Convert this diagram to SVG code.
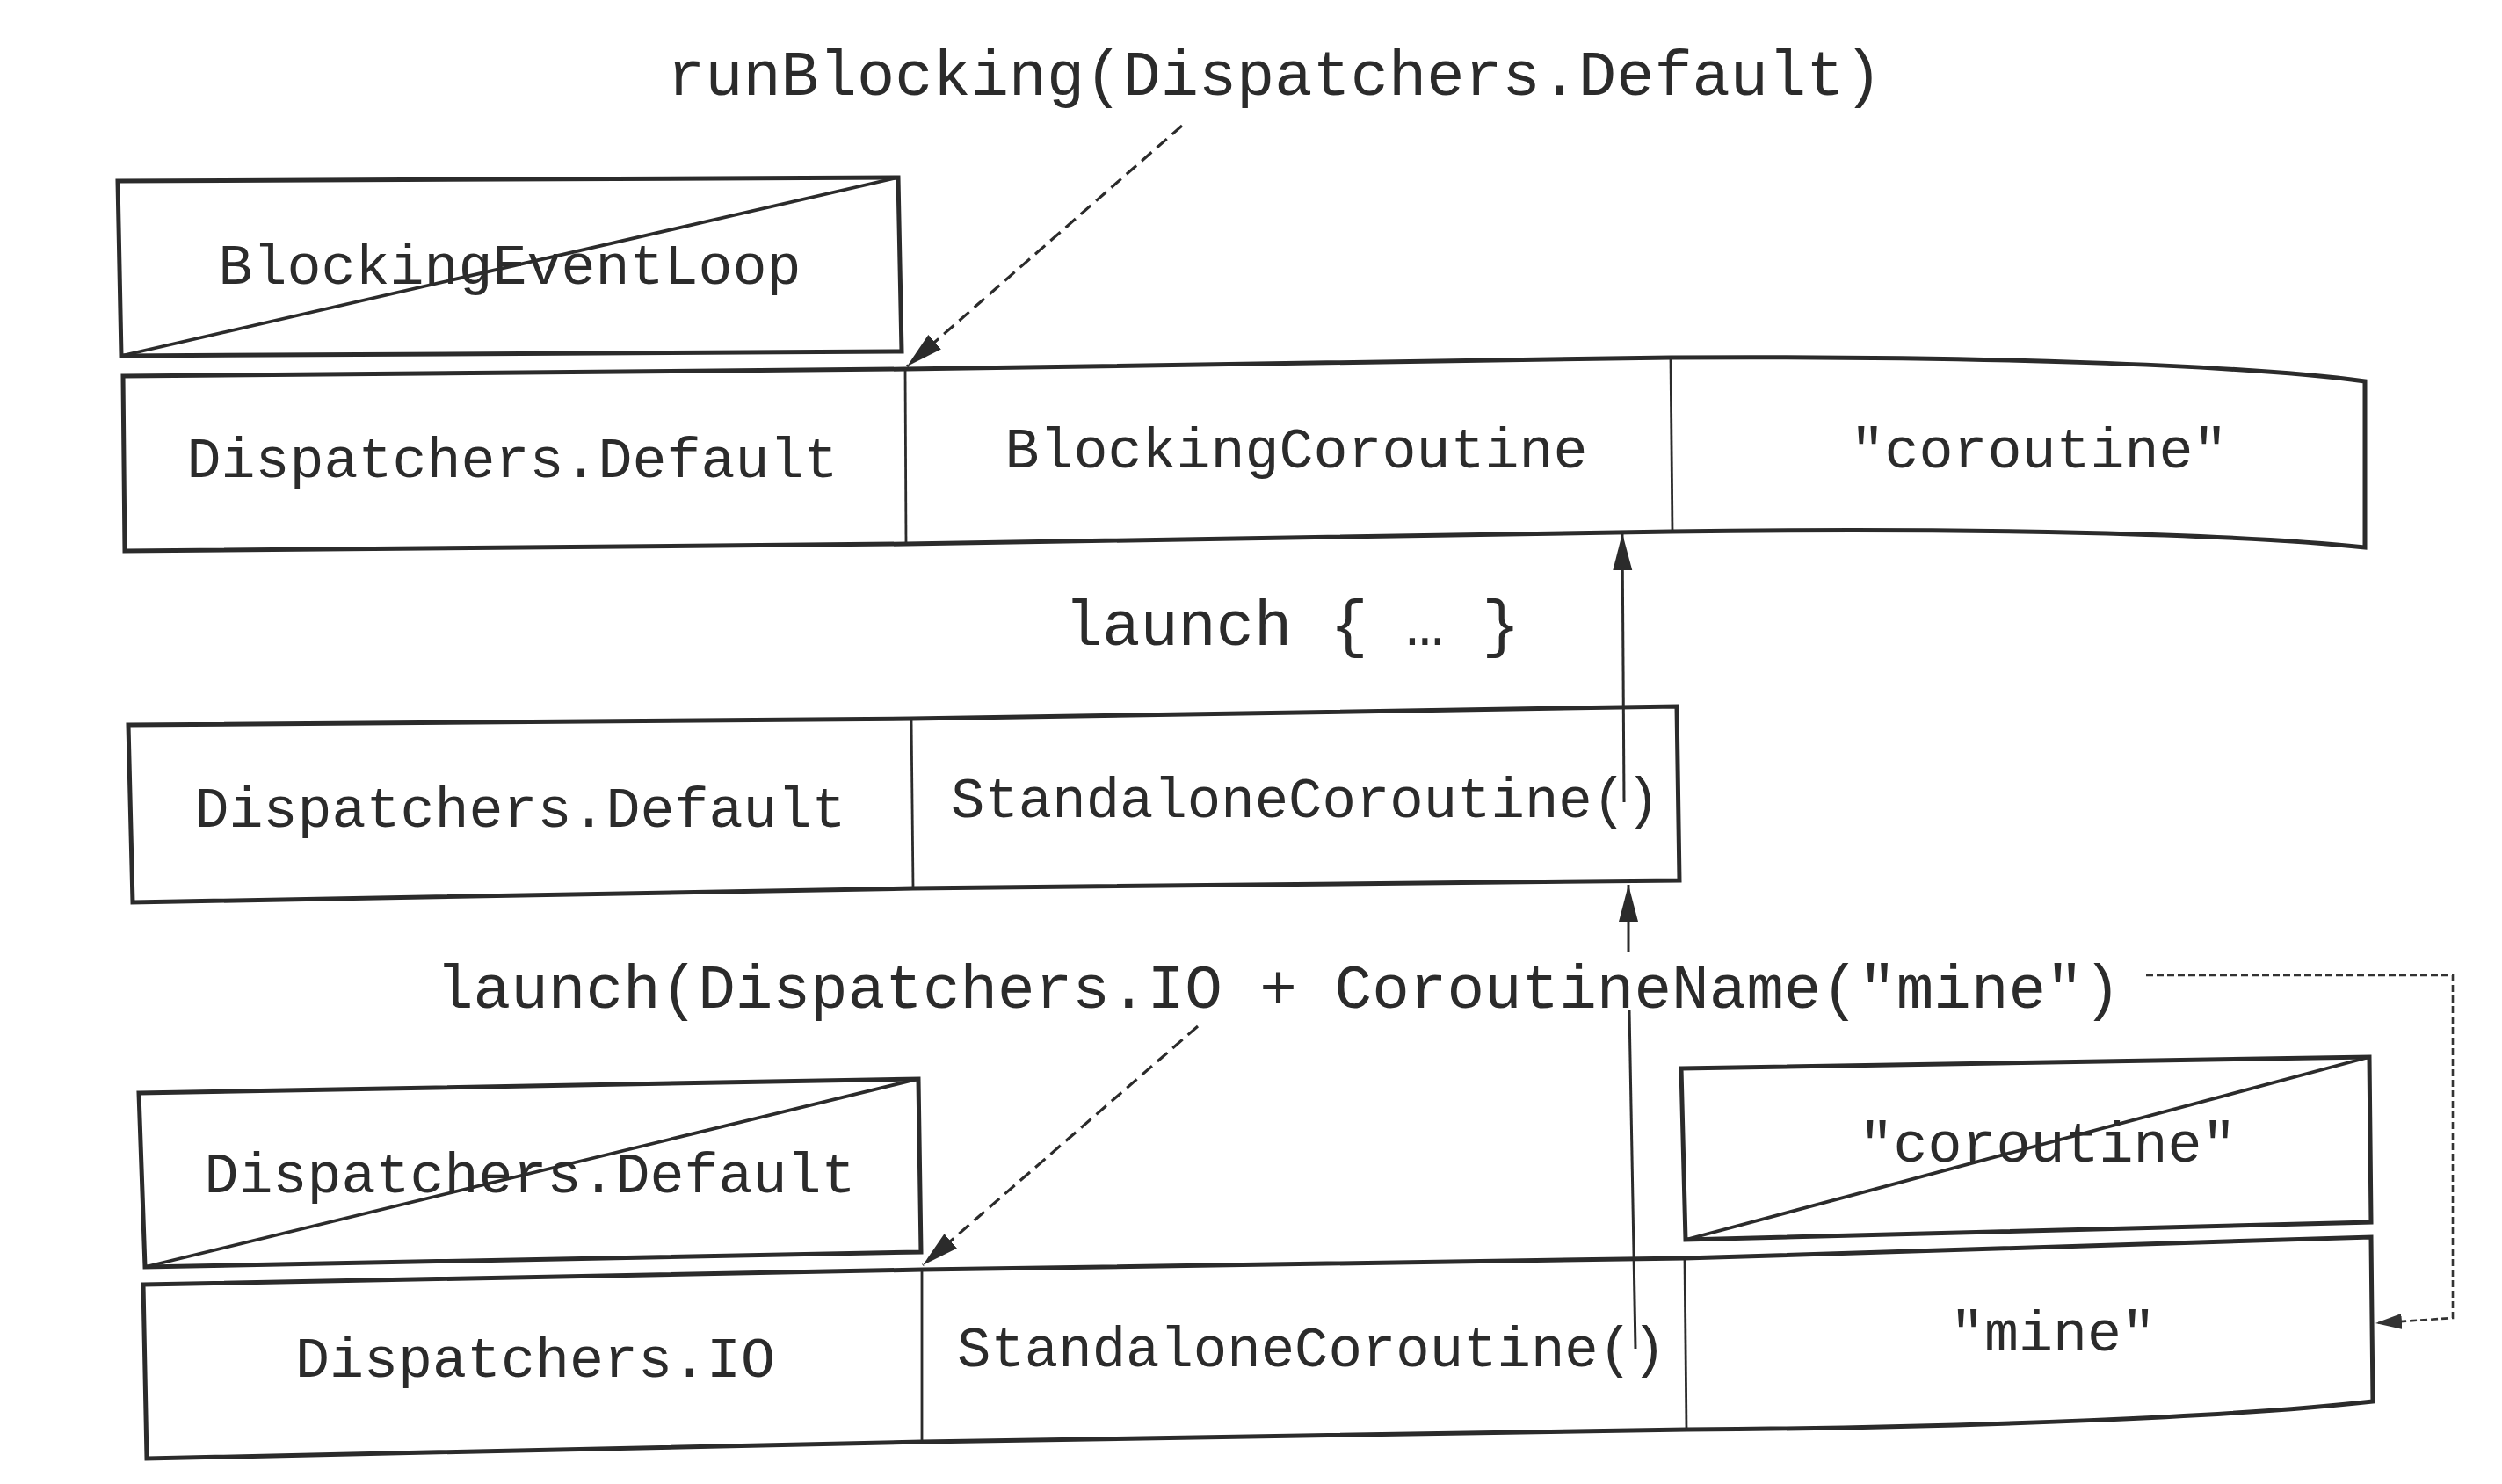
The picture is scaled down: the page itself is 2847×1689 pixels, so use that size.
<svg xmlns="http://www.w3.org/2000/svg" width="2847" height="1689" viewBox="0 0 2847 1689">
<style>
  .box{fill:none;stroke:#2b2b2b;stroke-width:5;stroke-linejoin:miter}
  .div{fill:none;stroke:#2b2b2b;stroke-width:2.8}
  .diag{fill:none;stroke:#2b2b2b;stroke-width:3.8}
  .t{font-family:"Liberation Mono","Courier New",monospace;font-size:65px;fill:#2b2b2b}
  .lbl{font-family:"Liberation Mono","Courier New",monospace;font-size:72px;fill:#2b2b2b}
  .mid{text-anchor:middle}
  .dash{fill:none;stroke:#2b2b2b;stroke-width:3.2;stroke-dasharray:15 8}
  .dot{fill:none;stroke:#333;stroke-width:2.6;stroke-dasharray:8 4}
  .solid{fill:none;stroke:#2b2b2b;stroke-width:3}
</style>
<defs>
  <marker id="ah" markerUnits="userSpaceOnUse" markerWidth="44" markerHeight="24" refX="42" refY="11" orient="auto">
    <path d="M0,0 L42,11 L0,22 Z" fill="#2b2b2b"/>
  </marker>
  <marker id="ahs" markerUnits="userSpaceOnUse" markerWidth="32" markerHeight="20" refX="30" refY="9" orient="auto">
    <path d="M0,0 L30,9 L0,18 Z" fill="#333"/>
  </marker>
</defs>
<rect width="2847" height="1689" fill="#ffffff"/>

<text class="lbl" x="759" y="108">runBlocking(Dispatchers.Default)</text>
<text class="lbl" x="1211" y="734">launch { … }</text>
<text class="lbl" x="496" y="1147" style="font-size:71px">launch(Dispatchers.IO + CoroutineName("mine")</text>

<g id="blocking-event-loop">
  <path class="box" d="M134,206 L1022,202 L1026,400 L138,405 Z"/>
  <text class="t mid" x="580" y="323">BlockingEventLoop</text>
  <line class="diag" x1="138" y1="405" x2="1022" y2="202"/>
</g>

<g id="top-context">
  <path class="box" d="M140,428 L1030,420 L1901,407 C2250,405 2550,415 2691,434 L2691,623 C2550,608 2250,600 1901,605 L1031,619 L142,627 Z"/>
  <line class="div" x1="1030" y1="420" x2="1031" y2="619"/>
  <line class="div" x1="1901" y1="407" x2="1903" y2="605"/>
  <text class="t mid" x="583" y="543">Dispatchers.Default</text>
  <text class="t mid" x="1475" y="532">BlockingCoroutine</text>
  <text class="t mid" x="2320" y="532">"coroutine"</text>
</g>

<g id="middle-context">
  <path class="box" d="M146,825 L1037,818 L1908,804 L1911,1002 L1039,1011 L151,1027 Z"/>
  <line class="div" x1="1037" y1="818" x2="1039" y2="1011"/>
  <text class="t mid" x="592" y="941">Dispatchers.Default</text>
  <text class="t" x="1082" y="930" style="font-size:64px">StandaloneCoroutine()</text>
</g>

<g id="old-dispatcher">
  <path class="box" d="M158,1244 L1045,1228 L1048,1425 L165,1442 Z"/>
  <text class="t mid" x="603" y="1357">Dispatchers.Default</text>
  <line class="diag" x1="165" y1="1442" x2="1045" y2="1228"/>
</g>

<g id="old-name">
  <path class="box" d="M1913,1216 L2696,1203 L2698,1391 L1918,1411 Z"/>
  <text class="t mid" x="2330" y="1322">"coroutine"</text>
  <line class="diag" x1="1918" y1="1411" x2="2696" y2="1203"/>
</g>

<g id="bottom-context">
  <path class="box" d="M163,1462 L1049,1445 L1917,1432 L2698,1408 L2700,1595 C2550,1612 2250,1625 1919,1627 L1049,1641 L167,1660 Z"/>
  <line class="div" x1="1049" y1="1445" x2="1049" y2="1641"/>
  <line class="div" x1="1917" y1="1432" x2="1919" y2="1627"/>
  <text class="t mid" x="609" y="1567">Dispatchers.IO</text>
  <text class="t" x="1089" y="1555" style="font-size:64px">StandaloneCoroutine()</text>
  <text class="t mid" x="2336" y="1537">"mine"</text>
</g>

<g id="connectors">
  <path class="dash" d="M1345,143 L1032,417" marker-end="url(#ah)"/>
  <path class="dash" d="M1363,1168 L1050,1440" marker-end="url(#ah)"/>
  <path class="solid" d="M1848,913 L1846,607" marker-end="url(#ah)"/>
  <path class="solid" d="M1861,1535 L1854,1150"/>
  <path class="solid" d="M1853,1083 L1853,1007" marker-end="url(#ah)"/>
  <path class="dot" d="M2442,1110 L2791,1110 L2791,1500 L2703,1506" marker-end="url(#ahs)"/>
</g>
</svg>
